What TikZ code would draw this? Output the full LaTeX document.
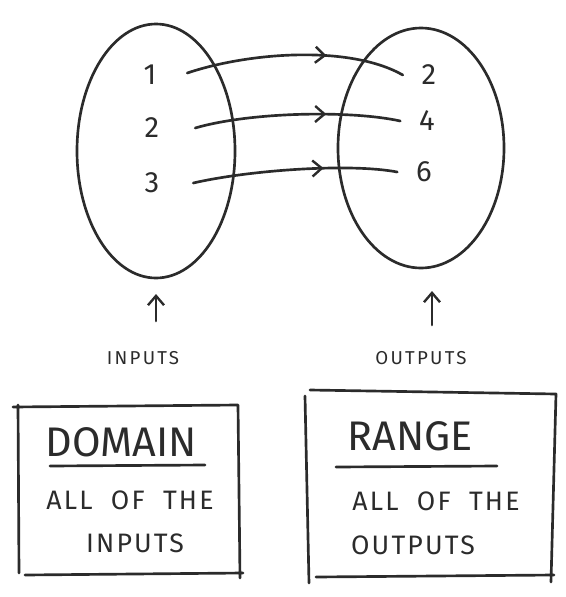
\documentclass[tikz,border=0pt]{standalone}
\usepackage{fontspec}
\setmainfont{Fira Sans}
\usetikzlibrary{decorations.markings,arrows.meta}
\definecolor{ink}{HTML}{2B2B2B}
\tikzset{
  pen/.style={draw=ink, line width=2pt, line cap=round, line join=round},
  num/.style={text=ink, font=\fontsize{22}{22}\selectfont, inner sep=2pt},
  small/.style={text=ink, font=\fontsize{14}{14}\selectfont\addfontfeatures{LetterSpace=12}},
  title/.style={text=ink, font=\fontsize{31}{31}\selectfont},
  body/.style={text=ink, font=\fontsize{20}{20}\selectfont\addfontfeatures{LetterSpace=8}},
  barb/.style={Straight Barb[length=7pt,width=12pt,line width=1.8pt]},
  midarrow/.style={decoration={markings, mark=at position 0.64 with {\arrow{Straight Barb[length=7pt,width=12pt,line width=1.8pt]}}}, postaction={decorate}},
}
\begin{document}
\begin{tikzpicture}[x=0.75pt,y=-0.75pt]
\useasboundingbox (0,0) rectangle (565,597);
% ellipses
\draw[pen] (156,151) ellipse [x radius=79, y radius=127];
\draw[pen] (421,148) ellipse [x radius=83, y radius=120];
% numbers
\node[num] (i1) at (150,75) {1};
\node[num] (i2) at (152,128) {2};
\node[num] (i3) at (152,183) {3};
\node[num] (o1) at (429,75) {2};
\node[num] (o2) at (427,121) {4};
\node[num] (o3) at (424,172) {6};
% mapping arrows
\draw[pen, midarrow] (i1.east) ++(28,-2) .. controls (250,52) and (350,45) .. ([xshift=-12pt]o1.west);
\draw[pen, midarrow] (i2.east) ++(33,0) .. controls (250,112) and (350,110) .. ([xshift=-12pt]o2.west);
\draw[pen, midarrow] (i3.east) ++(31,0) .. controls (250,170) and (350,163) .. ([xshift=-12pt]o3.west);
% up arrows and labels
\node[small] (inp) at (143,358) {INPUTS};
\node[small] (outp) at (421,358) {OUTPUTS};
\coordinate (ia) at (156,294);
\coordinate (oa) at (432,291);
\draw[pen, -{Straight Barb[length=7pt,width=12pt,line width=1.8pt]}] (156,321) -- (ia);
\draw[pen, -{Straight Barb[length=7pt,width=12pt,line width=1.8pt]}] (432,325) -- (oa);
% domain box
\draw[pen] (18,405) -- (19,573) (13,407) -- (238,405) -- (240,578) (25,575) -- (243,573);
\node[title] (dom) at (121,442) {DOMAIN};
\draw[pen] (50,466) -- (205,465);
\node[body] (d1) at (130,500) {ALL\ \ OF\ \ THE};
\node[body] (d2) at (135,543) {INPUTS};
% range box
\draw[pen] (305,396) -- (309,583) (310,390) -- (556,394) -- (551,582) (316,577) -- (554,575);
\node[title] (rng) at (410,436) {RANGE};
\draw[pen] (336,467) -- (497,466);
\node[body] (r1) at (436,501) {ALL\ \ OF\ \ THE};
\node[body] (r2) at (413,545) {OUTPUTS};
\end{tikzpicture}
\end{document}
